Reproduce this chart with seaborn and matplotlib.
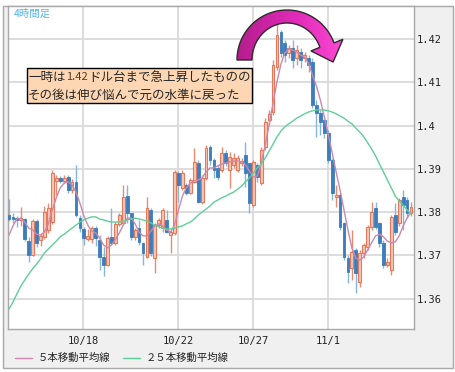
import numpy as np
import pandas as pd
import matplotlib
matplotlib.use("Agg")
import matplotlib.pyplot as plt
import seaborn as sns
from matplotlib.patches import Rectangle, Polygon
from matplotlib.colors import LinearSegmentedColormap

# 4-hour candles (prices)
opens = [1.3793, 1.3789, 1.3786, 1.3782, 1.3784, 1.3733, 1.3701, 1.3779, 1.3736, 1.3743,
         1.3759, 1.3777, 1.3872, 1.3879, 1.3872, 1.3881, 1.3851, 1.3870, 1.3786, 1.3761,
         1.3738, 1.3738, 1.3763, 1.3736, 1.3696, 1.3678, 1.3743, 1.3729, 1.3773, 1.3775,
         1.3837, 1.3798, 1.3743, 1.3763, 1.3729, 1.3696, 1.3805, 1.3694, 1.3770, 1.3763,
         1.3782, 1.3747, 1.3752, 1.3890, 1.3856, 1.3863, 1.3844, 1.3870, 1.3913, 1.3823,
         1.3879, 1.3950, 1.3920, 1.3902, 1.3897, 1.3937, 1.3897, 1.3909, 1.3897, 1.3913,
         1.3932, 1.3913, 1.3816, 1.3909, 1.3867, 1.3950, 1.4013, 1.4031, 1.4135, 1.4216,
         1.4191, 1.4168, 1.4179, 1.4156, 1.4170, 1.4156, 1.4156, 1.4147, 1.4047, 1.4029,
         1.4013, 1.3983, 1.3920, 1.3835, 1.3840, 1.3775, 1.3694, 1.3671, 1.3713, 1.3639,
         1.3706, 1.3719, 1.3766, 1.3810, 1.3775, 1.3729, 1.3678, 1.3666, 1.3793, 1.3775,
         1.3835, 1.3828, 1.3798]
highs = [1.3830, 1.3798, 1.3791, 1.3812, 1.3786, 1.3743, 1.3784, 1.3784, 1.3752, 1.3814,
         1.3821, 1.3897, 1.3886, 1.3883, 1.3886, 1.3886, 1.3877, 1.3909, 1.3793, 1.3766,
         1.3761, 1.3768, 1.3768, 1.3747, 1.3719, 1.3745, 1.3810, 1.3777, 1.3798, 1.3863,
         1.3863, 1.3798, 1.3763, 1.3782, 1.3731, 1.3835, 1.3810, 1.3775, 1.3786, 1.3810,
         1.3805, 1.3759, 1.3897, 1.3895, 1.3897, 1.3867, 1.3879, 1.3948, 1.3920, 1.3886,
         1.3955, 1.3955, 1.3925, 1.3909, 1.3950, 1.3943, 1.3939, 1.3937, 1.3932, 1.3925,
         1.3962, 1.3913, 1.3920, 1.3913, 1.3950, 1.4017, 1.4036, 1.4151, 1.4244, 1.4221,
         1.4198, 1.4186, 1.4198, 1.4186, 1.4179, 1.4170, 1.4163, 1.4156, 1.4059, 1.4036,
         1.4017, 1.3990, 1.3925, 1.3863, 1.3844, 1.3777, 1.3701, 1.3759, 1.3717, 1.3713,
         1.3729, 1.3770, 1.3823, 1.3823, 1.3777, 1.3736, 1.3694, 1.3793, 1.3821, 1.3833,
         1.3851, 1.3835, 1.3823]
lows = [1.3779, 1.3775, 1.3766, 1.3768, 1.3733, 1.3685, 1.3699, 1.3719, 1.3722, 1.3738,
        1.3752, 1.3773, 1.3840, 1.3867, 1.3867, 1.3844, 1.3844, 1.3789, 1.3754, 1.3724,
        1.3733, 1.3729, 1.3722, 1.3666, 1.3652, 1.3676, 1.3726, 1.3724, 1.3768, 1.3773,
        1.3775, 1.3736, 1.3736, 1.3724, 1.3678, 1.3694, 1.3699, 1.3659, 1.3763, 1.3754,
        1.3752, 1.3706, 1.3747, 1.3823, 1.3851, 1.3840, 1.3842, 1.3867, 1.3821, 1.3819,
        1.3874, 1.3909, 1.3879, 1.3874, 1.3893, 1.3907, 1.3856, 1.3902, 1.3893, 1.3907,
        1.3858, 1.3798, 1.3812, 1.3870, 1.3863, 1.3943, 1.4001, 1.4024, 1.4128, 1.4158,
        1.4147, 1.4156, 1.4133, 1.4140, 1.4133, 1.4147, 1.4124, 1.4041, 1.3974, 1.3978,
        1.3971, 1.3913, 1.3828, 1.3812, 1.3759, 1.3689, 1.3636, 1.3643, 1.3613, 1.3627,
        1.3694, 1.3713, 1.3759, 1.3761, 1.3719, 1.3671, 1.3673, 1.3655, 1.3747, 1.3768,
        1.3759, 1.3786, 1.3791]
closes = [1.3784, 1.3784, 1.3782, 1.3786, 1.3738, 1.3701, 1.3779, 1.3729, 1.3745, 1.3800,
          1.3810, 1.3890, 1.3879, 1.3872, 1.3879, 1.3851, 1.3870, 1.3793, 1.3763, 1.3740,
          1.3745, 1.3763, 1.3740, 1.3696, 1.3678, 1.3740, 1.3729, 1.3773, 1.3793, 1.3835,
          1.3798, 1.3743, 1.3759, 1.3731, 1.3706, 1.3810, 1.3706, 1.3770, 1.3782, 1.3805,
          1.3754, 1.3754, 1.3893, 1.3863, 1.3890, 1.3844, 1.3874, 1.3916, 1.3823, 1.3879,
          1.3948, 1.3920, 1.3897, 1.3881, 1.3937, 1.3913, 1.3927, 1.3925, 1.3925, 1.3918,
          1.3890, 1.3821, 1.3916, 1.3881, 1.3943, 1.4008, 1.4027, 1.4140, 1.4209, 1.4168,
          1.4163, 1.4179, 1.4151, 1.4174, 1.4151, 1.4163, 1.4140, 1.4047, 1.4029, 1.4008,
          1.3983, 1.3920, 1.3844, 1.3840, 1.3766, 1.3696, 1.3662, 1.3708, 1.3659, 1.3706,
          1.3724, 1.3766, 1.3800, 1.3766, 1.3729, 1.3678, 1.3685, 1.3789, 1.3754, 1.3828,
          1.3816, 1.3798, 1.3812]

# moving averages as drawn on the chart
ma5 = [1.3747, 1.3768, 1.3784, 1.3786, 1.3777, 1.3763, 1.3759, 1.3749, 1.3747, 1.3754,
       1.3773, 1.3805, 1.3833, 1.3856, 1.3867, 1.3870, 1.3863, 1.3846, 1.3821, 1.3791,
       1.3770, 1.3756, 1.3752, 1.3740, 1.3724, 1.3717, 1.3724, 1.3736, 1.3752, 1.3770,
       1.3786, 1.3786, 1.3773, 1.3754, 1.3745, 1.3745, 1.3756, 1.3768, 1.3773, 1.3768,
       1.3759, 1.3754, 1.3770, 1.3805, 1.3837, 1.3856, 1.3867, 1.3872, 1.3874, 1.3879,
       1.3893, 1.3902, 1.3902, 1.3907, 1.3911, 1.3913, 1.3916, 1.3918, 1.3918, 1.3916,
       1.3909, 1.3895, 1.3881, 1.3883, 1.3913, 1.3955, 1.4001, 1.4052, 1.4101, 1.4142,
       1.4168, 1.4177, 1.4174, 1.4170, 1.4163, 1.4158, 1.4144, 1.4117, 1.4091, 1.4059,
       1.4020, 1.3980, 1.3937, 1.3893, 1.3851, 1.3805, 1.3759, 1.3717, 1.3694, 1.3689,
       1.3696, 1.3713, 1.3729, 1.3745, 1.3749, 1.3743, 1.3733, 1.3729, 1.3731, 1.3745,
       1.3768, 1.3786, 1.3800]
ma25 = [1.3576, 1.3592, 1.3611, 1.3629, 1.3643, 1.3657, 1.3669, 1.3680, 1.3692, 1.3706,
        1.3715, 1.3724, 1.3733, 1.3743, 1.3749, 1.3756, 1.3763, 1.3770, 1.3777, 1.3782,
        1.3786, 1.3789, 1.3789, 1.3784, 1.3782, 1.3779, 1.3777, 1.3777, 1.3777, 1.3779,
        1.3782, 1.3784, 1.3786, 1.3784, 1.3782, 1.3779, 1.3775, 1.3770, 1.3766, 1.3763,
        1.3761, 1.3761, 1.3763, 1.3766, 1.3768, 1.3773, 1.3777, 1.3784, 1.3793, 1.3800,
        1.3807, 1.3814, 1.3823, 1.3828, 1.3833, 1.3837, 1.3842, 1.3846, 1.3853, 1.3860,
        1.3870, 1.3879, 1.3890, 1.3902, 1.3911, 1.3925, 1.3941, 1.3957, 1.3974, 1.3987,
        1.3997, 1.4004, 1.4010, 1.4017, 1.4022, 1.4027, 1.4031, 1.4034, 1.4036, 1.4036,
        1.4036, 1.4034, 1.4031, 1.4027, 1.4022, 1.4017, 1.4010, 1.4004, 1.3994, 1.3985,
        1.3974, 1.3960, 1.3946, 1.3930, 1.3911, 1.3893, 1.3874, 1.3856, 1.3837, 1.3826,
        1.3816, 1.3805, 1.3796]

date_pos = [18.8, 42.9, 61.9, 81.0]
date_labels = ["10/18", "10/22", "10/27", "11/1"]
price_ticks = [1.36, 1.37, 1.38, 1.39, 1.40, 1.41, 1.42]
price_labels = ["1.36", "1.37", "1.38", "1.39", "1.4", "1.41", "1.42"]
legend_labels = ["５本移動平均線", "２５本移動平均線"]
note_lines = ["一時は", "1.42", "ドル台まで急上昇したものの", "その後は伸び悩んで元の水準に戻った"]
timeframe = "4時間足"

sns.set_style("white")
plt.rcParams["font.family"] = ["Noto Sans CJK JP", "DejaVu Sans"]

W, H = 456, 372
UP_EDGE, UP_FILL, UP_WICK = "#e5775a", "#f7c9b6", "#ea8a6e"
DN_FILL, DN_WICK = "#3b7dbd", "#86b5df"
MA5_COLOR, MA25_COLOR = "#cc88ad", "#5fcf98"

df = pd.DataFrame({"open": opens, "high": highs, "low": lows, "close": closes,
                   "ma5": ma5, "ma25": ma25})
df["idx"] = np.arange(len(df))
up = df["close"] >= df["open"]

fig = plt.figure(figsize=(W / 100, H / 100), dpi=100)
fig.patch.set_facecolor("white")
fig.patches.append(Rectangle((3 / W, 1 - 368 / H), 450 / W, 362 / H, transform=fig.transFigure,
                             facecolor="#f0f0f0", edgecolor="#a8a8a8", lw=1, zorder=-1))

ax = fig.add_axes([8 / W, 1 - 329 / H, 406 / W, 323 / H])
ax.set_facecolor("white")

# wicks
for mask, col in [(up, UP_WICK), (~up, DN_WICK)]:
    ax.vlines(df.loc[mask, "idx"], df.loc[mask, "low"], df.loc[mask, "high"],
              color=col, lw=1, zorder=2)
# bodies
body_lo = df[["open", "close"]].min(axis=1)
body_h = (df["close"] - df["open"]).abs().clip(lower=0.00015)
ax.bar(df.loc[up, "idx"], body_h[up], bottom=body_lo[up], width=0.72,
       color=UP_FILL, edgecolor=UP_EDGE, lw=0.8, zorder=3)
ax.bar(df.loc[~up, "idx"], body_h[~up], bottom=body_lo[~up], width=0.72,
       color=DN_FILL, edgecolor=DN_FILL, lw=0.6, zorder=3)

sns.lineplot(data=df, x="idx", y="ma5", color=MA5_COLOR, lw=1, ax=ax, zorder=4)
sns.lineplot(data=df, x="idx", y="ma25", color=MA25_COLOR, lw=1, ax=ax, zorder=4)

ax.set_xlim(-0.25, 102.76)
ax.set_ylim(1.3530, 1.4276)
ax.set_xlabel("")
ax.set_ylabel("")
ax.yaxis.tick_right()
ax.set_yticks(price_ticks)
ax.set_yticklabels(price_labels, fontfamily="DejaVu Sans Mono", fontsize=7.5)
ax.set_xticks(date_pos)
ax.set_xticklabels(date_labels, fontfamily="DejaVu Sans Mono", fontsize=7.5)
ax.tick_params(axis="y", length=0, pad=2, colors="#222222")
ax.tick_params(axis="x", length=0, pad=5, colors="#222222")
ax.grid(True, color="#dadada", lw=1.3)
ax.set_axisbelow(True)
for s in ax.spines.values():
    s.set_color("#a8a8a8")
    s.set_linewidth(1)

# overlay in pixel coordinates
ov = fig.add_axes([0, 0, 1, 1], zorder=5)
ov.axis("off")

# curved arrow
cx, cy = 287, 60
te = 20
t = np.radians(np.linspace(180, te, 60))
outer = np.c_[cx + 50 * np.cos(t), cy - 50 * np.sin(t)]
inner = np.c_[cx + 35 * np.cos(t[::-1]), cy - 37 * np.sin(t[::-1])]
a = np.radians(te)
mid = np.array([cx + 42.5 * np.cos(a), cy - 43.5 * np.sin(a)])
tang = np.array([np.sin(a), np.cos(a)])
perp = np.array([np.cos(a), -np.sin(a)])
head = [mid + 17 * perp, mid + 18 * tang, mid - 17 * perp]
pts = np.vstack([outer, head, inner])
arrow = Polygon(pts, closed=True, facecolor="none", edgecolor="#2b2b2b", lw=1, zorder=7)
ov.add_patch(arrow)
cmap = LinearSegmentedColormap.from_list("mag", ["#b31d8c", "#e02ab8", "#ff4fd8"])
im = ov.imshow(np.linspace(0, 1, 256).reshape(1, -1), cmap=cmap, aspect="auto",
               extent=(236, 352, 68, 8), zorder=6)
im.set_clip_path(arrow)

# note box
ov.add_patch(Rectangle((27, 68), 225, 35, facecolor="#fdd7b4", edgecolor="black", lw=1, zorder=8))
ov.text(28, 77, note_lines[0], fontsize=9, va="center", ha="left", zorder=9)
ov.text(66, 77.5, note_lines[1], fontsize=8, va="center", ha="left", color="#5a3b22", zorder=9)
ov.text(88, 77, note_lines[2], fontsize=9, va="center", ha="left", zorder=9)
ov.text(28, 95, note_lines[3], fontsize=9, va="center", ha="left", zorder=9)

ov.text(14, 14, timeframe, fontsize=7.5, color="#4fb6ec", va="center", ha="left")

# legend
ov.plot([15, 32], [358, 358], color=MA5_COLOR, lw=1)
ov.text(38, 358, legend_labels[0], fontsize=7.5, va="center", ha="left", color="#222222")
ov.plot([123, 140], [358, 358], color=MA25_COLOR, lw=1)
ov.text(146, 358, legend_labels[1], fontsize=7.5, va="center", ha="left", color="#222222")

ov.set_xlim(0, W)
ov.set_ylim(H, 0)

fig.savefig("out.png", dpi=100)
